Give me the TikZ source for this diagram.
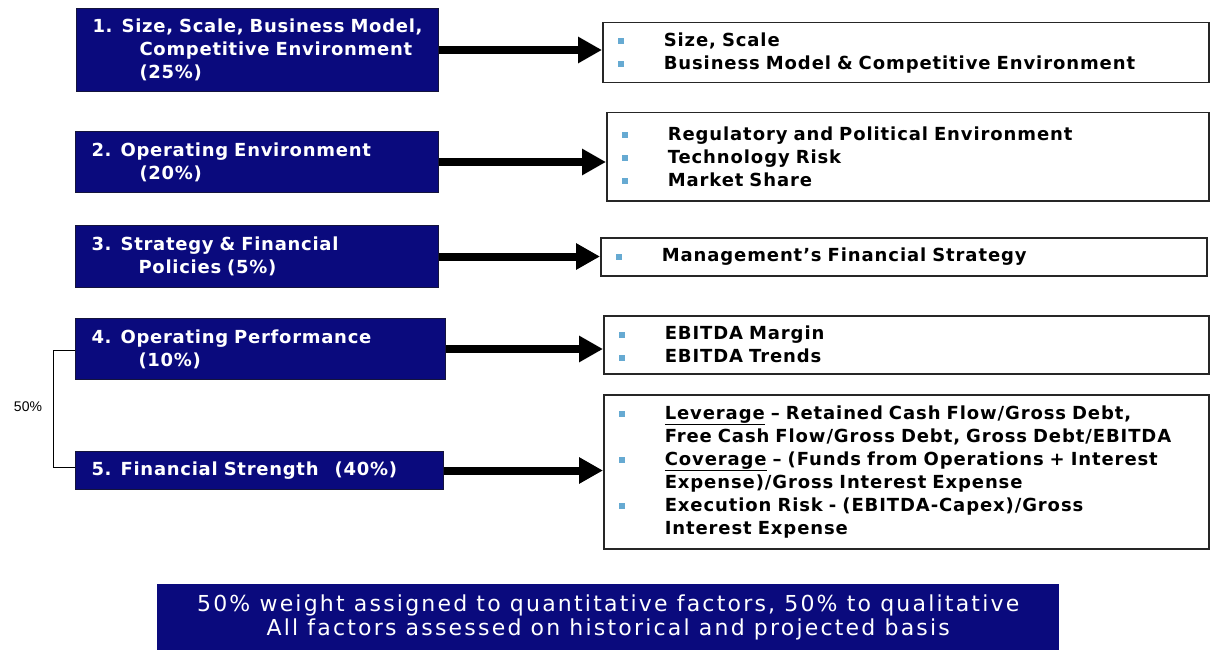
\documentclass[tikz,border=0pt]{standalone}
\usepackage{fontspec}
\setmainfont{DejaVu Sans}
\newfontfamily\factorfont{DejaVu Sans}[LetterSpace=4]
\newfontfamily\detailfont{DejaVu Sans}[LetterSpace=5]
\newfontfamily\notefont{DejaVu Sans}[LetterSpace=10]
\newfontfamily\smallfont{Liberation Sans}
\usetikzlibrary{arrows.meta}
\definecolor{navy}{RGB}{10,10,125}
\definecolor{navyedge}{RGB}{20,20,60}
\definecolor{bulletblue}{RGB}{102,170,210}
\newcommand{\bul}{\makebox[46pt][l]{\textcolor{bulletblue}{\raisebox{2pt}{\rule{6pt}{6pt}}}}}
\newcommand{\ind}{\hspace*{46pt}}
\begin{document}
\begin{tikzpicture}[x=1pt,y=-1pt,
  factor/.style={draw=navyedge, line width=1pt, fill=navy, text=white,
    font=\factorfont\bfseries\fontsize{18}{23}\selectfont,
    anchor=north west, align=left, inner xsep=16pt, inner ysep=0pt},
  detail/.style={draw=black!85, line width=1.5pt, fill=white, text=black,
    font=\detailfont\bfseries\fontsize{18}{23}\selectfont,
    anchor=north west, align=left, inner xsep=15pt, inner ysep=0pt},
  summary/.style={fill=navy, text=white,
    font=\notefont\fontsize{22}{24}\selectfont,
    anchor=north west, align=center, inner sep=0pt},
  bigarrow/.style={line width=8pt, -{Triangle[length=24pt,width=25pt]}},
  bracket/.style={line width=1pt, draw=black}]
\useasboundingbox (0,0) rectangle (1216,650);
\fill[white] (0,0) rectangle (1216,650);

% left-hand factor boxes
\node[factor, text width=330pt, minimum height=83pt] (b1) at (76,8)
  {1. Size, Scale, Business Model,\\\hspace*{47pt}Competitive Environment\\\hspace*{47pt}(25\%)};
\node[factor, text width=331pt, minimum height=61pt] (b2) at (75,131)
  {2. Operating Environment\\\hspace*{48pt}(20\%)};
\node[factor, text width=331pt, minimum height=62pt] (b3) at (75,225)
  {3. Strategy \& Financial\\\hspace*{47pt}Policies (5\%)};
\node[factor, text width=338pt, minimum height=61pt] (b4) at (75,318)
  {4. Operating Performance\\\hspace*{47pt}(10\%)};
\node[factor, text width=336pt, minimum height=38pt] (b5) at (75,451)
  {5. Financial Strength\hspace{16pt}(40\%)};

% right-hand detail boxes
\node[detail, text width=576pt, minimum height=60pt] (r1) at (602,22)
  {\bul Size, Scale\\\bul Business Model \& Competitive Environment};
\node[detail, text width=572pt, minimum height=88pt] (r2) at (606,112)
  {\bul Regulatory and Political Environment\\\bul Technology Risk\\\bul Market Share};
\node[detail, text width=576pt, minimum height=38pt] (r3) at (600,237)
  {\bul Management’s Financial Strategy};
\node[detail, text width=575pt, minimum height=58pt] (r4) at (603,315)
  {\bul EBITDA Margin\\\bul EBITDA Trends};
\node[detail, text width=575pt, minimum height=154pt] (r5) at (603,394)
  {\bul \underline{Leverage} – Retained Cash Flow/Gross Debt,\\
   \ind Free Cash Flow/Gross Debt, Gross Debt/EBITDA\\
   \bul \underline{Coverage} – (Funds from Operations + Interest\\
   \ind Expense)/Gross Interest Expense\\
   \bul Execution Risk - (EBITDA-Capex)/Gross\\
   \ind Interest Expense};

% arrows from factors to details
\draw[bigarrow] (b1.east) -- (b1.east -| r1.west);
\draw[bigarrow] (b2.east) -- (b2.east -| r2.west);
\draw[bigarrow] (b3.east) -- (b3.east -| r3.west);
\draw[bigarrow] (b4.east) -- (b4.east -| r4.west);
\draw[bigarrow] (b5.east) -- (b5.east -| r5.west);

% bracket grouping factors 4 and 5
\coordinate (bt) at (53,350);
\coordinate (bb) at (53,467);
\draw[bracket] (b4.west |- bt) -- (bt) -- (bb) -- (b5.west |- bb);
\node[font=\smallfont\fontsize{14}{15}\selectfont, inner sep=0pt] (pct) at (28,407) {50\%};

% summary banner
\node[summary, minimum width=902pt, minimum height=66pt] (sum) at (157,584)
  {50\% weight assigned to quantitative factors, 50\% to qualitative\\All factors assessed on historical and projected basis};
\end{tikzpicture}
\end{document}
